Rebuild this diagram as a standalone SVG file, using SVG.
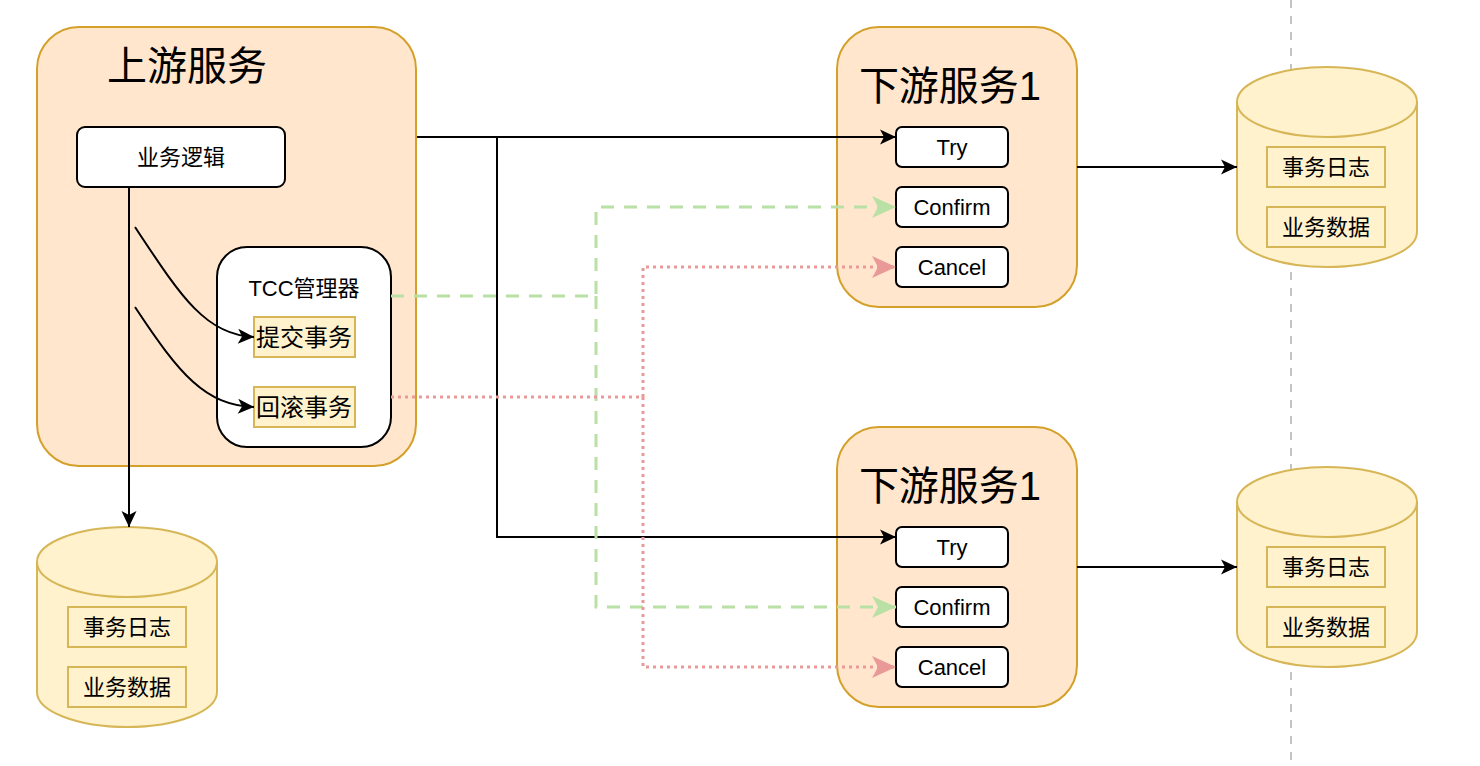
<svg xmlns="http://www.w3.org/2000/svg" width="1480" height="766" viewBox="0 0 1480 766">
<style>
text{font-family:"Liberation Sans","Noto Sans CJK SC",sans-serif;fill:#000;text-anchor:middle;dominant-baseline:central}
.svc{fill:#ffe6cc;stroke:#d4a02a;stroke-width:2}
.box{fill:#fff;stroke:#000;stroke-width:2}
.ybox{fill:#fff2cc;stroke:#d6b656;stroke-width:2}
.db{fill:#fff2cc;stroke:#d6b656;stroke-width:2}
.title{font-size:40px}
.lbl{font-size:22px}
.big{font-size:24px}
.blk{fill:none;stroke:#000;stroke-width:2}
.grn{fill:none;stroke:#b9e0a5;stroke-width:3;stroke-dasharray:13 10}
.red{fill:none;stroke:#ea9999;stroke-width:3;stroke-dasharray:3 4}
</style>
<defs>
<marker id="ab" markerUnits="userSpaceOnUse" markerWidth="18" markerHeight="18" viewBox="0 0 18 18" refX="17" refY="9" orient="auto"><path d="M1,1.5 L17,9 L1,16.5 L5,9 Z" fill="#000"/></marker>
<marker id="ag" markerUnits="userSpaceOnUse" markerWidth="26" markerHeight="26" viewBox="0 0 26 26" refX="25" refY="13" orient="auto"><path d="M1,2 L25,13 L1,24 L7,13 Z" fill="#b9e0a5"/></marker>
<marker id="ar" markerUnits="userSpaceOnUse" markerWidth="26" markerHeight="26" viewBox="0 0 26 26" refX="25" refY="13" orient="auto"><path d="M1,2 L25,13 L1,24 L7,13 Z" fill="#ea9999"/></marker>
</defs>
<rect width="1480" height="766" fill="#fff"/>
<line x1="1291" y1="0" x2="1291" y2="766" stroke="#c4c4c4" stroke-width="2" stroke-dasharray="8 8"/>

<g id="upstream">
<rect class="svc" x="37" y="27" width="379" height="439" rx="42"/>
<text class="title" x="187" y="66">上游服务</text>
</g>
<g id="biz-logic">
<rect class="box" x="77" y="127" width="208" height="60" rx="8"/>
<text class="lbl" x="181" y="157">业务逻辑</text>
</g>
<g id="tcc">
<rect class="box" x="217" y="247" width="174" height="200" rx="30"/>
<text class="lbl" x="304" y="288">TCC管理器</text>
</g>
<g id="commit">
<rect class="ybox" x="254" y="317" width="101" height="40"/>
<text class="big" x="304" y="337">提交事务</text>
</g>
<g id="rollback">
<rect class="ybox" x="254" y="387" width="101" height="40"/>
<text class="big" x="304" y="407">回滚事务</text>
</g>

<g id="down1">
<rect class="svc" x="837" y="27" width="240" height="280" rx="42"/>
<text class="title" x="950" y="86">下游服务1</text>
</g>
<g id="down1-try"><rect class="box" x="896" y="127" width="112" height="40" rx="6"/><text class="lbl" x="952" y="147">Try</text></g>
<g id="down1-confirm"><rect class="box" x="896" y="187" width="112" height="40" rx="6"/><text class="lbl" x="952" y="207">Confirm</text></g>
<g id="down1-cancel"><rect class="box" x="896" y="247" width="112" height="40" rx="6"/><text class="lbl" x="952" y="267">Cancel</text></g>

<g id="down2">
<rect class="svc" x="837" y="427" width="240" height="280" rx="42"/>
<text class="title" x="950" y="486">下游服务1</text>
</g>
<g id="down2-try"><rect class="box" x="896" y="527" width="112" height="40" rx="6"/><text class="lbl" x="952" y="547">Try</text></g>
<g id="down2-confirm"><rect class="box" x="896" y="587" width="112" height="40" rx="6"/><text class="lbl" x="952" y="607">Confirm</text></g>
<g id="down2-cancel"><rect class="box" x="896" y="647" width="112" height="40" rx="6"/><text class="lbl" x="952" y="667">Cancel</text></g>

<g id="db-up">
<path class="db" d="M37,562 A90,35 0 0 1 217,562 L217,692 A90,35 0 0 1 37,692 Z"/>
<path class="db" d="M37,562 A90,35 0 0 0 217,562"/>
<rect class="ybox" x="68" y="607" width="118" height="40"/><text class="lbl" x="127" y="627">事务日志</text>
<rect class="ybox" x="68" y="667" width="118" height="40"/><text class="lbl" x="127" y="687">业务数据</text>
</g>
<g id="db-down1">
<path class="db" d="M1237,102 A90,35 0 0 1 1417,102 L1417,232 A90,35 0 0 1 1237,232 Z"/>
<path class="db" d="M1237,102 A90,35 0 0 0 1417,102"/>
<rect class="ybox" x="1267" y="147" width="118" height="40"/><text class="lbl" x="1326" y="167">事务日志</text>
<rect class="ybox" x="1267" y="207" width="118" height="40"/><text class="lbl" x="1326" y="227">业务数据</text>
</g>
<g id="db-down2">
<path class="db" d="M1237,502 A90,35 0 0 1 1417,502 L1417,632 A90,35 0 0 1 1237,632 Z"/>
<path class="db" d="M1237,502 A90,35 0 0 0 1417,502"/>
<rect class="ybox" x="1267" y="547" width="118" height="40"/><text class="lbl" x="1326" y="567">事务日志</text>
<rect class="ybox" x="1267" y="607" width="118" height="40"/><text class="lbl" x="1326" y="627">业务数据</text>
</g>

<g id="connectors">
<path class="blk" d="M129,187 L129,527" marker-end="url(#ab)"/>
<path class="blk" d="M135,227 C180,295 205,335 254,337" marker-end="url(#ab)"/>
<path class="blk" d="M135,307 C180,375 205,405 254,407" marker-end="url(#ab)"/>
<path class="blk" d="M417,137 L896,137" marker-end="url(#ab)"/>
<path class="blk" d="M497,137 L497,537 L896,537" marker-end="url(#ab)"/>
<path class="blk" d="M1077,167 L1237,167" marker-end="url(#ab)"/>
<path class="blk" d="M1077,567 L1237,567" marker-end="url(#ab)"/>
<path class="grn" d="M391,296 L596,296 L596,207 L896,207" marker-end="url(#ag)"/>
<path class="grn" d="M596,296 L596,607 L896,607" marker-end="url(#ag)"/>
<path class="red" d="M391,397 L643,397 L643,267 L896,267" marker-end="url(#ar)"/>
<path class="red" d="M643,397 L643,667 L896,667" marker-end="url(#ar)"/>
</g>
</svg>
